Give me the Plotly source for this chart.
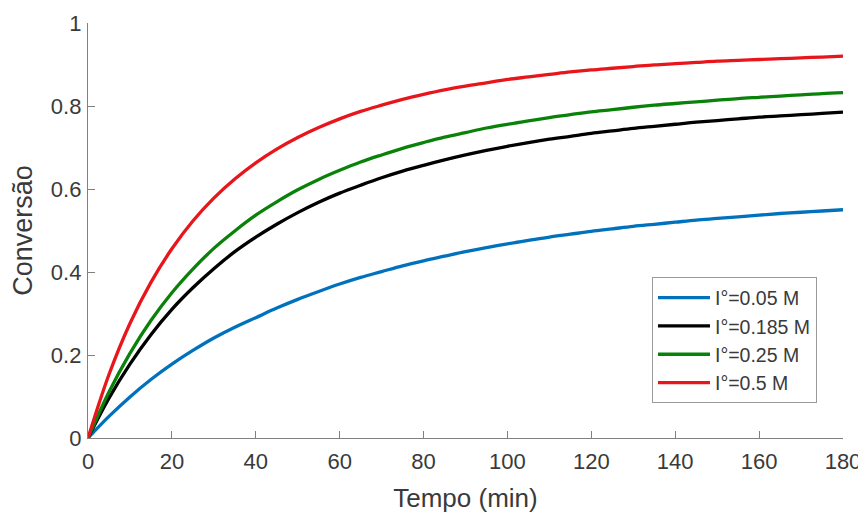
import plotly.graph_objects as go

# Time (min)
tempo = [0, 5, 10, 15, 20, 25, 30, 35, 40, 45, 50, 55, 60, 65, 70, 75, 80, 85, 90,
         95, 100, 105, 110, 115, 120, 125, 130, 135, 140, 145, 150, 155, 160, 165, 170, 175, 180]

# Conversion
conv_005 = [0, 0.052, 0.099, 0.141, 0.178, 0.211, 0.241, 0.267, 0.290, 0.313, 0.334, 0.353, 0.371,
            0.387, 0.401, 0.415, 0.427, 0.438, 0.449, 0.459, 0.468, 0.476, 0.484, 0.491, 0.498,
            0.504, 0.510, 0.515, 0.520, 0.525, 0.529, 0.533, 0.537, 0.541, 0.544, 0.547, 0.550]
conv_0185 = [0, 0.096, 0.178, 0.249, 0.310, 0.362, 0.408, 0.449, 0.484, 0.515, 0.543, 0.568, 0.590,
             0.609, 0.627, 0.643, 0.657, 0.670, 0.682, 0.693, 0.703, 0.712, 0.720, 0.727, 0.734,
             0.740, 0.746, 0.751, 0.756, 0.761, 0.765, 0.769, 0.773, 0.776, 0.779, 0.782, 0.785]
conv_025 = [0, 0.111, 0.204, 0.283, 0.350, 0.407, 0.457, 0.499, 0.537, 0.569, 0.598, 0.623, 0.645,
            0.665, 0.682, 0.698, 0.712, 0.725, 0.736, 0.747, 0.756, 0.764, 0.772, 0.779, 0.786,
            0.791, 0.797, 0.802, 0.806, 0.810, 0.814, 0.818, 0.821, 0.824, 0.827, 0.830, 0.832]
conv_05 = [0, 0.153, 0.276, 0.375, 0.456, 0.523, 0.578, 0.624, 0.663, 0.696, 0.724, 0.748, 0.769,
           0.787, 0.802, 0.816, 0.828, 0.839, 0.848, 0.856, 0.864, 0.870, 0.876, 0.882, 0.887,
           0.891, 0.895, 0.899, 0.902, 0.905, 0.908, 0.910, 0.912, 0.914, 0.916, 0.918, 0.920]

series_names = ["I°=0.05 M", "I°=0.185 M", "I°=0.25 M", "I°=0.5 M"]
series_colors = ["#0072BD", "#000000", "#0A820A", "#E8161B"]
series_values = [conv_005, conv_0185, conv_025, conv_05]

x_ticks = [0, 20, 40, 60, 80, 100, 120, 140, 160, 180]
y_ticks = [0, 0.2, 0.4, 0.6, 0.8, 1]

FONT = "Liberation Sans, Arial, Helvetica, sans-serif"
AXIS_GRAY = "#808080"
TEXT = "#3a3a3a"

fig = go.Figure()
for name, color, vals in zip(series_names, series_colors, series_values):
    fig.add_trace(go.Scatter(
        x=tempo, y=vals, mode="lines", name=name,
        line=dict(color=color, width=3.3, shape="spline", smoothing=1.0),
    ))

# page body has an 8px margin, so the figure is offset by 8px
fig.update_layout(
    width=858, height=505,
    margin=dict(l=80, r=23, t=15, b=75),
    paper_bgcolor="white", plot_bgcolor="white",
    font=dict(family=FONT, color=TEXT, size=20),
    showlegend=True,
    legend=dict(
        x=0.747, y=0.387, xanchor="left", yanchor="top",
        bgcolor="white", bordercolor="#9a9a9a", borderwidth=1,
        font=dict(family=FONT, size=19.5, color=TEXT),
        tracegroupgap=0, itemwidth=52,
    ),
)

fig.update_xaxes(
    range=[0, 180], tickvals=x_ticks, ticks="inside", ticklen=7,
    tickcolor=AXIS_GRAY, showline=True, linecolor=AXIS_GRAY, linewidth=1.3,
    showgrid=False, zeroline=False, mirror=False, automargin=False,
    tickfont=dict(size=22, color=TEXT), ticklabelstandoff=3, ticklabeloverflow="allow",
    title=dict(text="Tempo (min)", font=dict(size=26, color=TEXT), standoff=22),
)
fig.update_yaxes(
    range=[0, 1], tickvals=y_ticks, ticks="inside", ticklen=7,
    tickcolor=AXIS_GRAY, showline=True, linecolor=AXIS_GRAY, linewidth=1.3,
    showgrid=False, zeroline=False, mirror=False, automargin=False,
    tickfont=dict(size=22, color=TEXT), ticklabelstandoff=1, ticklabeloverflow="allow",
    title=dict(text="Conversão", font=dict(size=27, color=TEXT), standoff=10),
)

fig.write_html("out.html")
